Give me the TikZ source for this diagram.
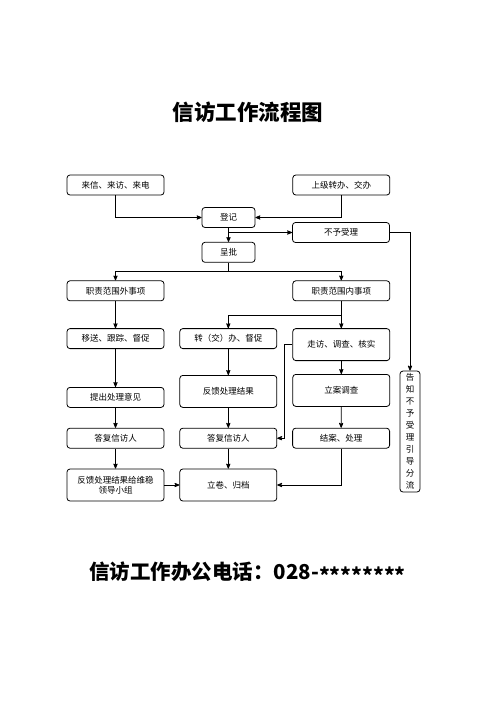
\documentclass[tikz,border=0pt]{standalone}
\usepackage{fontspec}
\setmainfont{Noto Sans CJK SC}
\usetikzlibrary{arrows,positioning}

\begin{document}
\begin{tikzpicture}[x=1pt,y=-1pt,>=stealth',line width=0.8pt,
box/.style={rectangle, draw=black, rounded corners=3pt, minimum width=97pt, minimum height=20pt, inner sep=0pt, font=\fontsize{8.5pt}{10pt}\selectfont, align=center},
tallbox/.style={box, minimum height=32pt},
smallbox/.style={box, minimum width=53pt},
]
\useasboundingbox (0,0) rectangle (496,702);

% Title
\node[font=\fontsize{21.5pt}{24pt}\selectfont\bfseries] (title) at (248,112) {信访工作流程图};

\node[box] (laixin) at (115.5,185) {来信、来访、来电};
\node[box](shangji)[right = 128pt of laixin]{上级转办、交办};
\node[smallbox] (dengji) at (228.5,217.5) {登记};
\node[smallbox](chengpi)[below = 14pt of dengji]{呈批};
\node[box] (buyu) at (341,232.5) {不予受理};

\node[box](waishi)[below = 85pt of laixin]{职责范围外事项};
\node[box](neishi)[right = 128pt of waishi]{职责范围内事项};

\node[box](yisong)[below = 27pt of waishi]{移送、跟踪、督促};
\node[box](zhuanban)[right = 15pt of yisong]{转（交）办、督促};
\node[tallbox](zoufang)[below = 27pt of neishi]{走访、调查、核实};

\node[box](tichu)[below = 38pt of yisong]{提出处理意见};
\node[tallbox](fankui)[below = 26pt of zhuanban]{反馈处理结果};
\node[tallbox](lian)[below = 13pt of zoufang]{立案调查};

\node[box](dafu1)[below = 20pt of tichu]{答复信访人};
\node[box](dafu2)[right = 15pt of dafu1]{答复信访人};
\node[box](jiean)[right = 15pt of dafu2]{结案、处理};

\node[tallbox](weiwen)[below = 20pt of dafu1]{反馈处理结果给维稳\\领导小组};
\node[tallbox](lijuan)[right = 15pt of weiwen]{立卷、归档};

\node[box, minimum width=20pt, minimum height=121pt, font=\fontsize{8.5pt}{12pt}\selectfont] (gaozhi) at (410,431.5) {告\\知\\不\\予\\受\\理\\引\\导\\分\\流};

\draw[->] (laixin.south) |- (dengji.west);
\draw[->] (shangji.south) |- (dengji.east);
\draw[->] (dengji) -- (chengpi);
\draw[->] (dengji.south |- buyu.west) -- (buyu.west);
\draw[->] (buyu.east) -| (gaozhi.north);

\coordinate[below = 9pt of chengpi.south] (cp);
\draw[-] (chengpi.south) -- (cp);
\draw[->] (cp) -| (waishi.north);
\draw[->] (cp) -| (neishi.north);

\draw[->] (waishi) -- (yisong);
\draw[->] (yisong) -- (tichu);
\draw[->] (tichu) -- (dafu1);
\draw[->] (dafu1) -- (weiwen);

\coordinate[above = 13pt of zoufang.north] (nb);
\draw[->] (neishi) -- (zoufang);
\draw[->] (nb) -| (zhuanban.north);
\draw[->] (zhuanban) -- (fankui);
\draw[->] (fankui) -- (dafu2);
\draw[->] (dafu2) -- (lijuan);

\draw[->] (zoufang) -- (lian);
\draw[->] (lian) -- (jiean);
\draw[->] (zoufang.west) -- ++(-8,0) |- (dafu2.east);
\draw[->] (jiean.south) |- (lijuan.east);
\draw[->] (weiwen) -- (lijuan);

% Phone
\node[font=\fontsize{20.5pt}{24pt}\selectfont\bfseries] (phone) at (247.5,573) {信访工作办公电话：028-\raisebox{-4pt}{********}};

\end{tikzpicture}
\end{document}
